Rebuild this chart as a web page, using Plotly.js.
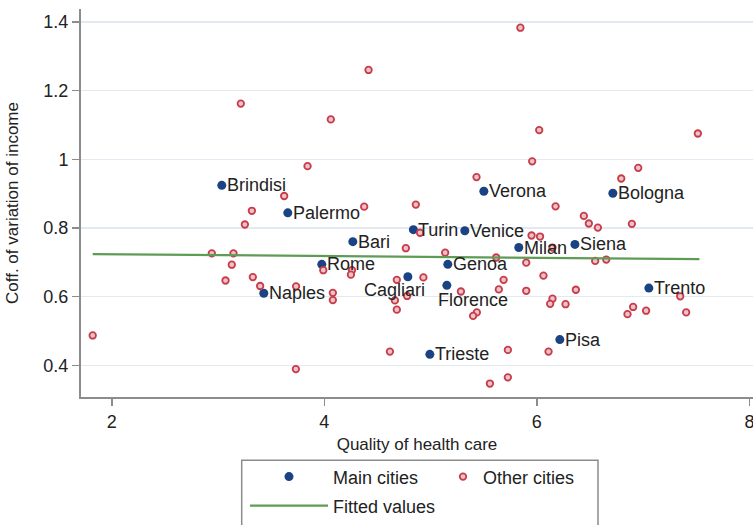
<!DOCTYPE html>
<html>
<head>
<meta charset="utf-8">
<script src="https://cdn.plot.ly/plotly-3.0.1.min.js"></script>
<style>
  html, body { margin: 0; padding: 0; background: #ffffff; }
  #chart { width: 753px; height: 525px; }
</style>
</head>
<body>
<div id="chart"></div>
<script>
// ---- data ----
var mainNames = ["Brindisi", "Palermo", "Bari", "Rome", "Naples", "Cagliari", "Turin", "Venice",
                 "Genoa", "Florence", "Trieste", "Verona", "Milan", "Siena", "Bologna", "Trento", "Pisa"];
var mainX = [3.035, 3.656, 4.268, 3.976, 3.430, 4.786, 4.838, 5.322,
             5.162, 5.153, 4.993, 5.501, 5.830, 6.358, 6.715, 7.054, 6.216];
var mainY = [0.924, 0.844, 0.760, 0.694, 0.610, 0.658, 0.795, 0.792,
             0.694, 0.633, 0.432, 0.907, 0.743, 0.752, 0.901, 0.625, 0.475];

var otherX = [3.214, 5.845, 4.416, 4.061, 3.842, 5.432, 6.022, 5.956, 7.515, 6.954,
              6.794, 3.622, 3.318, 3.252, 2.941, 3.145, 3.129, 3.070, 3.327, 3.396,
              3.734, 1.820, 3.732, 4.375, 4.861, 4.901, 4.767, 5.137, 5.617, 5.900,
              3.990, 4.260, 4.250, 4.682, 4.932, 4.080, 4.080, 4.664, 4.779, 4.682,
              5.285, 5.687, 5.642, 5.900, 5.435, 5.400, 4.617, 5.727, 5.727, 5.558,
              6.176, 6.442, 6.489, 6.574, 6.894, 5.950, 6.030, 6.147, 6.549, 6.653,
              6.062, 6.367, 6.147, 6.125, 6.270, 7.349, 6.906, 6.853, 7.028, 7.405,
              6.110];
var otherY = [1.162, 1.383, 1.260, 1.116, 0.980, 0.948, 1.085, 0.994, 1.075, 0.975,
              0.944, 0.893, 0.850, 0.810, 0.726, 0.726, 0.693, 0.647, 0.657, 0.631,
              0.630, 0.487, 0.389, 0.862, 0.868, 0.786, 0.741, 0.728, 0.714, 0.699,
              0.677, 0.677, 0.664, 0.649, 0.656, 0.611, 0.590, 0.589, 0.602, 0.562,
              0.615, 0.649, 0.621, 0.617, 0.554, 0.544, 0.440, 0.445, 0.365, 0.347,
              0.863, 0.835, 0.813, 0.801, 0.812, 0.778, 0.775, 0.743, 0.704, 0.708,
              0.661, 0.620, 0.594, 0.579, 0.578, 0.601, 0.570, 0.549, 0.559, 0.554,
              0.440];

var fitX = [1.82, 7.53];
var fitY = [0.724, 0.709];

var yTickVals = [0.4, 0.6, 0.8, 1, 1.2, 1.4];
var yTickText = ["0.4", "0.6", "0.8", "1", "1.2", "1.4"];
var xTickVals = [2, 4, 6, 8];
var xTickText = ["2", "4", "6", "8"];

// ---- label placement (style, not data) ----
var labelPlacement = {
  "Cagliari": {xanchor: "center", xshift: -13, yshift: -13},
  "Florence": {xanchor: "left", xshift: -11, yshift: -15}
};

var FONT = "Liberation Sans, Arial, Helvetica, sans-serif";
var TXT = "#222222";

var traces = [
  {
    type: "scatter", mode: "markers", name: "Main cities",
    x: mainX, y: mainY,
    marker: {color: "#1b4383", size: 9, line: {width: 0}},
    legend: "legend", cliponaxis: false
  },
  {
    type: "scatter", mode: "markers", name: "Other cities",
    x: otherX, y: otherY,
    marker: {color: "#eec3c7", size: 6.5, line: {color: "#c73c4b", width: 1.8}},
    legend: "legend2", cliponaxis: false
  },
  {
    type: "scatter", mode: "lines", name: "Fitted values",
    x: fitX, y: fitY,
    line: {color: "#5e9c55", width: 2.2},
    legend: "legend3"
  }
];

var annotations = mainNames.map(function (n, i) {
  var p = labelPlacement[n] || {xanchor: "left", xshift: 3, yshift: 0};
  return {
    x: mainX[i], y: mainY[i], xref: "x", yref: "y",
    text: n, showarrow: false,
    xanchor: p.xanchor, yanchor: "middle",
    xshift: p.xshift, yshift: p.yshift,
    font: {family: FONT, size: 18, color: TXT}
  };
});

var legendCommon = {
  orientation: "v", bgcolor: "rgba(0,0,0,0)", borderwidth: 0,
  font: {family: FONT, size: 18, color: TXT}, yanchor: "middle", xanchor: "left"
};

var layout = {
  width: 753, height: 525,
  margin: {l: 81, r: 0, t: 9, b: 124},
  paper_bgcolor: "#ffffff", plot_bgcolor: "#ffffff",
  font: {family: FONT, size: 18, color: TXT},
  showlegend: true,
  legend: Object.assign({}, legendCommon, {x: (245 - 81) / 672, y: (401 - 481.7) / 392, itemwidth: 78}),
  legend2: Object.assign({}, legendCommon, {x: (443 - 81) / 672, y: (401 - 481.7) / 392, itemwidth: 30}),
  legend3: Object.assign({}, legendCommon, {x: (245 - 81) / 672, y: (401 - 511) / 392, itemwidth: 78}),
  xaxis: {
    range: [1.710, 8.034], tickmode: "array", tickvals: xTickVals, ticktext: xTickText,
    showgrid: false, zeroline: false,
    showline: true, linecolor: "#8c8c8c", linewidth: 2,
    ticks: "outside", ticklen: 7, tickwidth: 1.5, tickcolor: "#8c8c8c",
    ticklabeloverflow: "allow",
    tickfont: {family: FONT, size: 18, color: TXT},
    title: {text: "Quality of health care", font: {family: FONT, size: 17, color: TXT}, standoff: 8}
  },
  yaxis: {
    range: [0.3078, 1.4375], tickmode: "array", tickvals: yTickVals, ticktext: yTickText,
    showgrid: true, gridcolor: "#e2e9f1", gridwidth: 1.5, zeroline: false,
    showline: true, linecolor: "#8c8c8c", linewidth: 2,
    ticks: "outside", ticklen: 7, tickwidth: 1.5, tickcolor: "#8c8c8c",
    tickfont: {family: FONT, size: 18, color: TXT},
    title: {text: "Coff. of variation of income", font: {family: FONT, size: 17, color: TXT}, standoff: 20}
  },
  shapes: [
    {type: "rect", xref: "paper", yref: "paper",
     x0: (241.7 - 81) / 672, x1: (598 - 81) / 672,
     y0: (401 - 465) / 392, y1: (401 - 540) / 392,
     line: {color: "#8c8c8c", width: 1.5}, fillcolor: "rgba(0,0,0,0)"}
  ],
  annotations: annotations
};

Plotly.newPlot("chart", traces, layout, {displayModeBar: false, staticPlot: true});
</script>
</body>
</html>
